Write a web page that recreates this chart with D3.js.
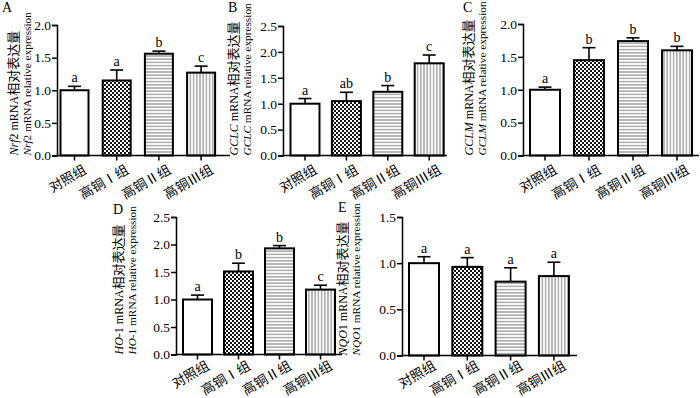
<!DOCTYPE html>
<html><head><meta charset="utf-8">
<script src="https://cdn.jsdelivr.net/npm/d3@7"></script>
<style>
body{margin:0;background:#fff;}
svg{display:block;}
text{font-family:"Liberation Serif","Times New Roman","Noto Sans CJK SC",serif;fill:#000;}
</style></head>
<body>
<svg id="chart" width="700" height="398"></svg>
<script>
const categories = ["对照组", "高铜Ⅰ组", "高铜Ⅱ组", "高铜Ⅲ组"];

const nrf2Values = [1.00, 1.15, 1.56, 1.27];
const nrf2Errors = [0.06, 0.16, 0.04, 0.10];
const nrf2Letters = ["a", "a", "b", "c"];
const nrf2Ticks = [0, 0.5, 1.0, 1.5, 2.0];

const gclcValues = [1.00, 1.05, 1.23, 1.78];
const gclcErrors = [0.10, 0.17, 0.12, 0.16];
const gclcLetters = ["a", "ab", "b", "c"];
const gclcTicks = [0, 0.5, 1.0, 1.5, 2.0, 2.5];

const gclmValues = [1.00, 1.45, 1.74, 1.60];
const gclmErrors = [0.04, 0.19, 0.05, 0.06];
const gclmLetters = ["a", "b", "b", "b"];
const gclmTicks = [0, 0.5, 1.0, 1.5, 2.0];

const ho1Values = [1.00, 1.51, 1.93, 1.18];
const ho1Errors = [0.08, 0.15, 0.05, 0.08];
const ho1Letters = ["a", "b", "b", "c"];
const ho1Ticks = [0, 0.5, 1.0, 1.5, 2.0, 2.5];

const nqo1Values = [1.00, 0.96, 0.80, 0.86];
const nqo1Errors = [0.07, 0.10, 0.15, 0.15];
const nqo1Letters = ["a", "a", "a", "a"];
const nqo1Ticks = [0, 0.5, 1.0, 1.5];

const panels = [
  {id:"A", gene:"Nrf", geneSuffix:"2", values:nrf2Values, errors:nrf2Errors, letters:nrf2Letters, ticks:nrf2Ticks,
   axisX:57, axisEnd:230, c0:74.5, step:42.2, bw:28, y0:155.5, yTop:25, letter:[2,12], lab:[17.5,31], xl:17},
  {id:"B", gene:"GCLC", geneSuffix:"", values:gclcValues, errors:gclcErrors, letters:gclcLetters, ticks:gclcTicks,
   axisX:283, axisEnd:447, c0:305, step:41.4, bw:29, y0:155.5, yTop:26, letter:[228,12], lab:[237.5,251], xl:17},
  {id:"C", gene:"GCLM", geneSuffix:"", values:gclmValues, errors:gclmErrors, letters:gclmLetters, ticks:gclmTicks,
   axisX:523, axisEnd:699, c0:545, step:44, bw:30, y0:155.5, yTop:24, letter:[463,12], lab:[472.5,486], xl:17},
  {id:"D", gene:"HO", geneSuffix:"-1", values:ho1Values, errors:ho1Errors, letters:ho1Letters, ticks:ho1Ticks,
   axisX:176, axisEnd:342, c0:197.5, step:41, bw:29, y0:354.5, yTop:217, letter:[113,214], lab:[122.5,136], xl:14},
  {id:"E", gene:"NQO", geneSuffix:"1", values:nqo1Values, errors:nqo1Errors, letters:nqo1Letters, ticks:nqo1Ticks,
   axisX:402, axisEnd:577, c0:424, step:43.3, bw:30, y0:355.5, yTop:217, letter:[338,212], lab:[346.5,360], xl:13}
];

const svg = d3.select("#chart");
const defs = svg.append("defs");
const pc = defs.append("pattern").attr("id","checker").attr("patternUnits","userSpaceOnUse").attr("width",4).attr("height",4);
pc.append("rect").attr("width",4).attr("height",4).attr("fill","#fff");
pc.append("rect").attr("width",2).attr("height",2).attr("fill","#111");
pc.append("rect").attr("x",2).attr("y",2).attr("width",2).attr("height",2).attr("fill","#111");
const ph = defs.append("pattern").attr("id","hlines").attr("patternUnits","userSpaceOnUse").attr("width",4).attr("height",3.2);
ph.append("rect").attr("width",4).attr("height",3.2).attr("fill","#fff");
ph.append("line").attr("x1",0).attr("x2",4).attr("y1",1.6).attr("y2",1.6).attr("stroke","#888").attr("stroke-width",1.1);
const pv = defs.append("pattern").attr("id","vlines").attr("patternUnits","userSpaceOnUse").attr("width",3.2).attr("height",4);
pv.append("rect").attr("width",3.2).attr("height",4).attr("fill","#fff");
pv.append("line").attr("y1",0).attr("y2",4).attr("x1",1.6).attr("x2",1.6).attr("stroke","#888").attr("stroke-width",1.1);

const fills = ["#fff", "url(#checker)", "url(#hlines)", "url(#vlines)"];

panels.forEach(p => {
  const g = svg.append("g");
  const maxT = p.ticks[p.ticks.length-1];
  const y = d3.scaleLinear().domain([0, maxT]).range([p.y0, p.yTop]);
  const pi = 1 - p.bw / p.step;
  const x = d3.scaleBand().domain(categories)
    .range([p.c0 - p.step/2, p.c0 + p.step*3.5])
    .paddingInner(pi).paddingOuter(pi/2);

  g.selectAll("rect.bar").data(categories).join("rect")
    .attr("class","bar")
    .attr("x", d => x(d))
    .attr("width", x.bandwidth())
    .attr("y", (d,i) => y(p.values[i]))
    .attr("height", (d,i) => y(0) - y(p.values[i]))
    .attr("fill", (d,i) => fills[i])
    .attr("stroke","#000").attr("stroke-width",2);

  categories.forEach((d,i) => {
    const cx = x(d) + x.bandwidth()/2;
    const top = y(p.values[i] + p.errors[i]);
    g.append("line").attr("x1",cx).attr("x2",cx).attr("y1",y(p.values[i])).attr("y2",top)
      .attr("stroke","#000").attr("stroke-width",1.6);
    g.append("line").attr("x1",cx-6.5).attr("x2",cx+6.5).attr("y1",top).attr("y2",top)
      .attr("stroke","#000").attr("stroke-width",1.6);
    g.append("text").attr("x",cx).attr("y",top-4).attr("text-anchor","middle")
      .attr("font-size",14).attr("fill","#000").text(p.letters[i]);
  });

  const ya = g.append("g").attr("transform",`translate(${p.axisX},0)`)
    .call(d3.axisLeft(y).tickValues(p.ticks).tickFormat(d3.format(".1f")).tickSizeOuter(0).tickSize(5));
  ya.select(".domain").attr("stroke","#000").attr("stroke-width",1.5);
  ya.selectAll(".tick line").attr("stroke","#000").attr("stroke-width",1.5);
  ya.selectAll(".tick text").attr("font-size",13.5).attr("font-family",'"Liberation Serif",serif').attr("fill","#000").attr("x",-6);

  const xa = g.append("g").attr("transform",`translate(0,${p.y0})`)
    .call(d3.axisBottom(x).tickSize(5).tickSizeOuter(0));
  xa.select(".domain").remove();
  xa.selectAll(".tick line").attr("stroke","#000").attr("stroke-width",1.5);
  xa.selectAll(".tick text")
    .attr("font-size",13.5).attr("font-family",'"Liberation Serif","Noto Sans CJK SC",serif').attr("fill","#000")
    .attr("text-anchor","end").attr("dy",0).attr("y",0)
    .attr("transform",`translate(13,${p.xl}) rotate(-30)`);
  g.append("line").attr("x1",p.axisX-0.75).attr("x2",p.axisEnd).attr("y1",p.y0).attr("y2",p.y0)
    .attr("stroke","#000").attr("stroke-width",1.5);

  g.append("text").attr("x",p.letter[0]).attr("y",p.letter[1]).attr("font-size",14).attr("fill","#000").text(p.id);

  const lab1 = g.append("text").attr("font-size",12).attr("fill","#000")
    .attr("transform",`translate(${p.lab[0]},${p.y0}) rotate(-90)`).attr("text-anchor","start");
  lab1.append("tspan").attr("font-style","italic").text(p.gene);
  lab1.append("tspan").text(p.geneSuffix + " mRNA");
  lab1.append("tspan").attr("font-size",13).text("相对表达量");
  const lab2 = g.append("text").attr("font-size",11.3).attr("fill","#000")
    .attr("transform",`translate(${p.lab[1]},${p.y0}) rotate(-90)`).attr("text-anchor","start");
  lab2.append("tspan").attr("font-style","italic").text(p.gene);
  lab2.append("tspan").text(p.geneSuffix + " mRNA relative expression");
});
</script>
</body></html>
